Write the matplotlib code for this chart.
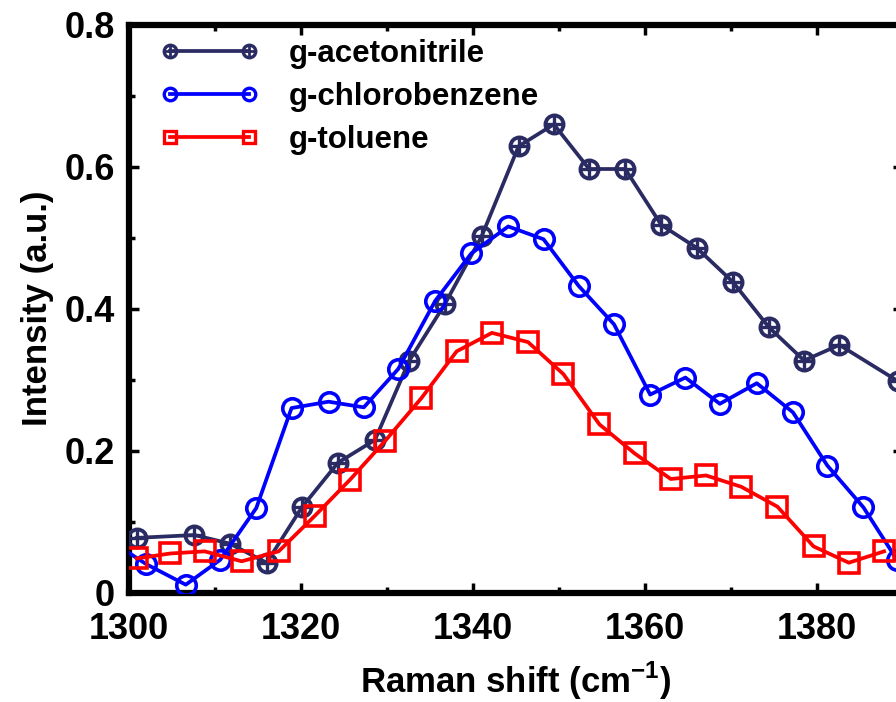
import matplotlib
matplotlib.use('Agg')
import matplotlib.pyplot as plt
from matplotlib.ticker import MultipleLocator, FixedLocator

plt.rcParams['font.family'] = ['Liberation Sans', 'DejaVu Sans']
plt.rcParams['font.weight'] = 'bold'
plt.rcParams['mathtext.fontset'] = 'custom'
plt.rcParams['mathtext.rm'] = 'Liberation Sans:bold'
plt.rcParams['mathtext.bf'] = 'Liberation Sans:bold'

# data
x_acn = [1300.9, 1307.6, 1311.7, 1316.0, 1320.1, 1324.3, 1328.6, 1332.6, 1336.7, 1341.0,
         1345.3, 1349.4, 1353.5, 1357.7, 1361.9, 1366.0, 1370.2, 1374.4, 1378.5, 1382.6, 1389.4]
y_acn = [0.077, 0.081, 0.069, 0.042, 0.120, 0.183, 0.215, 0.327, 0.406, 0.502,
         0.629, 0.660, 0.597, 0.597, 0.518, 0.486, 0.438, 0.374, 0.327, 0.349, 0.298]

x_clb = [1298.2, 1302.0, 1306.6, 1310.6, 1314.8, 1318.9, 1323.2, 1327.3, 1331.3, 1335.6,
         1339.8, 1344.1, 1348.2, 1352.3, 1356.4, 1360.6, 1364.7, 1368.7, 1373.0, 1377.2,
         1381.2, 1385.4, 1389.3]
y_clb = [0.070, 0.040, 0.011, 0.046, 0.119, 0.260, 0.269, 0.261, 0.315, 0.411,
         0.478, 0.516, 0.498, 0.432, 0.378, 0.279, 0.303, 0.266, 0.295, 0.254,
         0.179, 0.120, 0.046]

x_tol = [1300.9, 1304.8, 1308.8, 1313.1, 1317.4, 1321.6, 1325.7, 1329.8, 1334.0, 1338.1,
         1342.2, 1346.4, 1350.5, 1354.7, 1358.8, 1363.0, 1367.1, 1371.2, 1375.4, 1379.6,
         1383.7, 1387.8]
y_tol = [0.048, 0.055, 0.058, 0.044, 0.058, 0.108, 0.159, 0.214, 0.274, 0.340,
         0.366, 0.353, 0.308, 0.237, 0.196, 0.160, 0.165, 0.149, 0.121, 0.065,
         0.042, 0.058]

labels = ['g-acetonitrile', 'g-chlorobenzene', 'g-toluene']
xticks = [1300, 1320, 1340, 1360, 1380]
yticks = [0, 0.2, 0.4, 0.6, 0.8]
yticklabels = ['0', '0.2', '0.4', '0.6', '0.8']
navy = '#2b2b63'
blue = '#0000ff'
red = '#ff0000'

fig = plt.figure(figsize=(8.96, 7.02), dpi=100)
ax = fig.add_axes([129/896, 109.5/702, (903-129)/896, (592.5-25)/702])

lw = 2.7
# acetonitrile: circle with a plus inside
ax.plot(x_acn, y_acn, color=navy, lw=lw, marker='o', ms=13, mfc='none', mec=navy, mew=2.8,
        zorder=3)
ax.plot(x_acn, y_acn, ls='none', marker='+', ms=13, mec=navy, mew=2.4, zorder=3)
ax.plot(x_clb, y_clb, color=blue, lw=lw, marker='o', ms=14, mfc='none', mec=blue, mew=2.6,
        zorder=3)
ax.plot(x_tol, y_tol, color=red, lw=lw, marker='s', ms=14, mfc='none', mec=red, mew=2.6,
        zorder=3)

ax.set_xlim(1300, 1390)
ax.set_ylim(0, 0.8)
ax.xaxis.set_major_locator(FixedLocator(xticks))
ax.xaxis.set_minor_locator(MultipleLocator(10))
ax.yaxis.set_major_locator(FixedLocator(yticks))
ax.yaxis.set_minor_locator(MultipleLocator(0.1))
ax.set_yticklabels(yticklabels)

for s in ax.spines.values():
    s.set_linewidth(4.5)
ax.tick_params(which='both', direction='in', top=True, right=True, width=2.5)
ax.tick_params(which='major', length=7)
ax.tick_params(which='minor', length=4)
ax.tick_params(axis='x', which='major', labelsize=26, pad=14)
ax.tick_params(axis='y', which='major', labelsize=26, pad=10)
for t in ax.get_xticklabels() + ax.get_yticklabels():
    t.set_fontweight('bold')

ax.set_xlabel(r'Raman shift (cm$^{\mathbf{-1}}$)', fontsize=25, fontweight='bold', labelpad=9)
ax.set_ylabel('Intensity (a.u.)', fontsize=25, fontweight='bold', labelpad=8)

# legend handles: line with markers at both ends
h1, = ax.plot([], [], color=navy, lw=lw, marker='o', ms=9, mfc='none', mec=navy, mew=2.4)
h1b, = ax.plot([], [], ls='none', marker='+', ms=9, mec=navy, mew=2)
h2, = ax.plot([], [], color=blue, lw=lw, marker='o', ms=9, mfc='none', mec=blue, mew=2.4)
h3, = ax.plot([], [], color=red, lw=lw, marker='s', ms=9, mfc='none', mec=red, mew=2.4)
ax.legend([(h1, h1b), h2, h3], labels, loc='upper left',
          bbox_to_anchor=(161/896, 1 - 39/702), bbox_transform=fig.transFigure,
          frameon=False, numpoints=2, handlelength=3.1, handletextpad=1.0,
          labelspacing=0.42, borderpad=0, borderaxespad=0,
          prop={'size': 22.5, 'weight': 'bold'})

fig.savefig('out.png', dpi=100)
